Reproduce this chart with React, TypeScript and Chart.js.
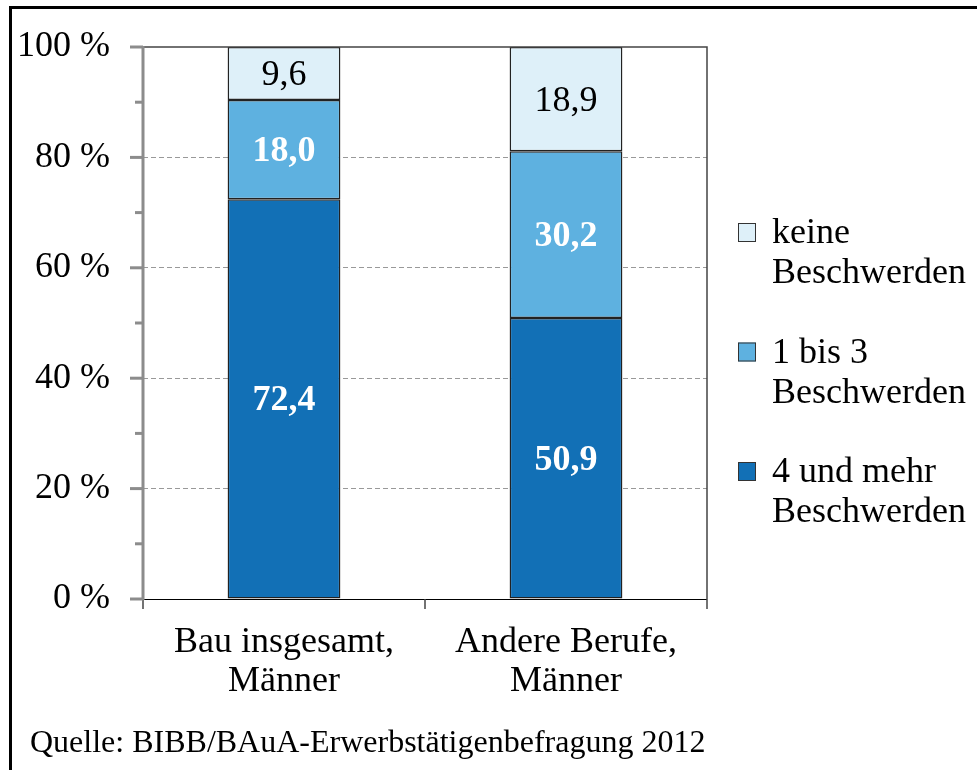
import React, { useEffect, useRef } from "react";
import { Chart, registerables } from "chart.js";

Chart.register(...registerables);

// ---------- data ----------
const categories = [
  ["Bau insgesamt,", "Männer"],
  ["Andere Berufe,", "Männer"],
];
const seriesLabels = [
  ["4 und mehr", "Beschwerden"],
  ["1 bis 3", "Beschwerden"],
  ["keine", "Beschwerden"],
];
const valuesVierUndMehr = [72.4, 50.9];
const valuesEinsBisDrei = [18.0, 30.2];
const valuesKeine = [9.6, 18.9];
const yTickValues = [0, 10, 20, 30, 40, 50, 60, 70, 80, 90, 100];
const gridValues = [20, 40, 60, 80];
const sourceText = "Quelle: BIBB/BAuA-Erwerbstätigenbefragung 2012";

// ---------- styles ----------
const FONT = "'Liberation Serif', 'Times New Roman', serif";
const seriesColors = ["#1270b6", "#5eb1e0", "#def0f9"];
const labelColors = ["#ffffff", "#ffffff", "#000000"];
const labelBold = [true, true, false];

const decorPlugin = {
  id: "decor",
  afterDraw(chart: any) {
    const ctx: CanvasRenderingContext2D = chart.ctx;
    const { left, right, top, bottom } = chart.chartArea;
    const yScale = chart.scales.y;

    ctx.save();
    // outer frame
    ctx.strokeStyle = "#000";
    ctx.lineWidth = 3;
    ctx.beginPath();
    ctx.moveTo(10.5, chart.height);
    ctx.lineTo(10.5, 7.5);
    ctx.lineTo(chart.width, 7.5);
    ctx.stroke();

    // top & right border of plot
    ctx.strokeStyle = "#444";
    ctx.lineWidth = 1.5;
    ctx.beginPath();
    ctx.moveTo(left, top);
    ctx.lineTo(right, top);
    ctx.lineTo(right, bottom);
    ctx.stroke();

    // x axis line
    ctx.strokeStyle = "#000";
    ctx.lineWidth = 1;
    ctx.beginPath();
    ctx.moveTo(left, bottom + 0.5);
    ctx.lineTo(right, bottom + 0.5);
    ctx.stroke();
    // x ticks (category boundaries)
    ctx.strokeStyle = "#444";
    ctx.lineWidth = 1.5;
    const n = categories.length;
    for (let i = 0; i <= n; i++) {
      const x = left + ((right - left) * i) / n;
      ctx.beginPath();
      ctx.moveTo(x, bottom);
      ctx.lineTo(x, bottom + 10);
      ctx.stroke();
    }

    // y axis line + ticks
    ctx.strokeStyle = "#8c8c8c";
    ctx.lineWidth = 3;
    ctx.beginPath();
    ctx.moveTo(left, top - 1);
    ctx.lineTo(left, bottom + 1);
    ctx.stroke();
    yTickValues.forEach((v) => {
      const y = yScale.getPixelForValue(v);
      const len = v % 20 === 0 ? 13 : 8;
      ctx.beginPath();
      ctx.moveTo(left - len, y);
      ctx.lineTo(left, y);
      ctx.stroke();
    });

    // data labels
    ctx.textAlign = "center";
    ctx.textBaseline = "middle";
    chart.data.datasets.forEach((ds: any, i: number) => {
      const meta = chart.getDatasetMeta(i);
      meta.data.forEach((el: any, j: number) => {
        const v = ds.data[j] as number;
        const txt = v.toFixed(1).replace(".", ",");
        ctx.font = `${labelBold[i] ? "bold " : ""}36px ${FONT}`;
        ctx.fillStyle = labelColors[i];
        ctx.fillText(txt, el.x, (el.y + el.base) / 2 + 2);
      });
    });

    // legend (reverse order)
    ctx.textAlign = "left";
    ctx.textBaseline = "alphabetic";
    ctx.font = `36px ${FONT}`;
    for (let k = 0; k < seriesLabels.length; k++) {
      const di = seriesLabels.length - 1 - k;
      const sx = right + 31;
      const sy = top + 176 + k * 119.5;
      ctx.fillStyle = seriesColors[di];
      ctx.fillRect(sx, sy, 18, 19);
      ctx.strokeStyle = "#333";
      ctx.lineWidth = 1;
      ctx.strokeRect(sx + 0.5, sy + 0.5, 17, 18);
      ctx.fillStyle = "#000";
      seriesLabels[di].forEach((line, li) => {
        ctx.fillText(line, right + 65, sy + 20 + li * 40);
      });
    }

    // source
    ctx.font = `32px ${FONT}`;
    ctx.fillStyle = "#000";
    ctx.fillText(sourceText, 30, 752);
    ctx.restore();
  },
};

export default function App() {
  const ref = useRef<HTMLCanvasElement>(null);
  useEffect(() => {
    if (!ref.current) return;
    const datasets = [valuesVierUndMehr, valuesEinsBisDrei, valuesKeine].map((d, i) => ({
      label: seriesLabels[i].join(" "),
      data: d,
      backgroundColor: seriesColors[i],
      borderColor: "#222",
      borderWidth: 1.5,
      borderSkipped: false,
      categoryPercentage: 1,
      barPercentage: 0.4,
    }));
    const chart = new Chart(ref.current, {
      type: "bar",
      data: { labels: categories as any, datasets },
      options: {
        animation: false,
        responsive: false,
        layout: { padding: { left: 0, top: 47, right: 270, bottom: 0 } },
        plugins: { legend: { display: false }, tooltip: { enabled: false } },
        scales: {
          x: {
            stacked: true,
            grid: { display: false, drawTicks: false },
            border: { display: false },
            ticks: {
              color: "#000",
              font: { family: FONT, size: 36, lineHeight: 1.08 },
              padding: 24,
              maxRotation: 0,
              minRotation: 0,
              autoSkip: false,
            },
            afterFit: (s: any) => {
              s.height = 171;
              s.paddingLeft = 0;
              s.paddingRight = 0;
            },
          },
          y: {
            stacked: true,
            min: 0,
            max: 100,
            afterBuildTicks: (s: any) => {
              s.ticks = yTickValues.map((v) => ({ value: v }));
            },
            ticks: {
              stepSize: 10,
              autoSkip: false,
              color: "#000",
              font: { family: FONT, size: 36 },
              padding: 33,
              callback: (v: any) => (Number(v) % 20 === 0 ? `${v} %` : ""),
            },
            grid: {
              drawTicks: false,
              lineWidth: 1,
              color: (c: any) =>
                c.tick && gridValues.includes(c.tick.value) ? "#999" : "rgba(0,0,0,0)",
            },
            border: { display: false, dash: [5, 3] },
            afterFit: (s: any) => {
              s.width = 143;
              s.paddingTop = 0;
              s.paddingBottom = 0;
            },
          },
        },
      },
      plugins: [decorPlugin],
    });
    return () => chart.destroy();
  }, []);
  return (
    <div style={{ position: "fixed", left: 0, top: 0, width: 977, height: 770, background: "#fff" }}>
      <canvas ref={ref} width={977} height={770} style={{ display: "block" }} />
    </div>
  );
}
